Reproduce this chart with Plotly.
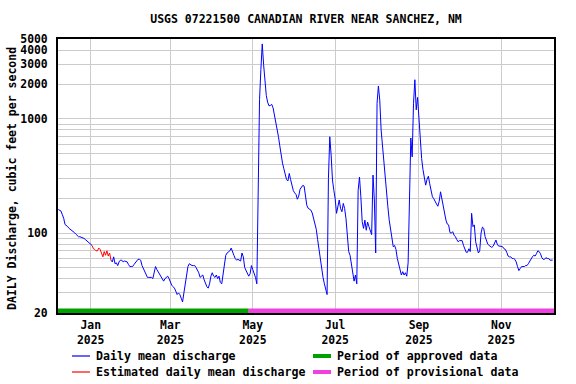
import plotly.graph_objects as go
import pandas as pd

# ---------------- data ----------------
title_text = "USGS 07221500 CANADIAN RIVER NEAR SANCHEZ, NM"
y_title = "DAILY Discharge, cubic feet per second"
start_date = "2024-12-08"

# daily mean discharge, cfs, one value per day from start_date
discharge = [
    161, 158, 156, 145, 135, 119, 117, 114, 110, 108,
    106, 104, 101, 98, 96, 93, 93, 92, 92, 90,
    88, 86, 84, 82, 80, 78, 73, 72, 70, 70,
    74, 72, 66, 62, 69, 64, 70, 63, 67, 58,
    56, 62, 54, 55, 52, 56, 58, 58, 56, 57,
    56, 56, 53, 51, 51, 51, 53, 55, 56, 59,
    59, 58, 52, 49, 46, 44, 41, 41, 41, 41,
    40, 46, 51, 48, 46, 44, 42, 40, 38, 40,
    41, 42, 40, 37, 35, 34, 33, 31, 29, 30,
    29, 27, 25, 30, 36, 45, 51, 54, 53, 52,
    52, 52, 50, 48, 45, 41, 42, 43, 39, 36,
    34, 33, 36, 42, 45, 42, 41, 43, 40, 42,
    37, 36, 45, 55, 64, 67, 69, 70, 74, 70,
    64, 60, 58, 59, 58, 57, 67, 62, 50, 47,
    45, 42, 44, 52, 48, 45, 41, 36, 243, 1470,
    2700, 4530, 3000, 2000, 1600, 1400, 1300, 1310, 1340, 1250,
    1100, 920, 820, 700, 580, 480, 410, 366, 320, 294,
    286, 333, 294, 257, 236, 225, 218, 198, 211, 242,
    250, 262, 258, 198, 175, 165, 161, 159, 150, 132,
    115, 108, 88, 72, 61, 48, 41, 36, 31, 29,
    300, 697, 482, 292, 237, 200, 149, 177, 195, 164,
    154, 182, 164, 134, 100, 69, 64, 54, 42, 38,
    43, 36, 237, 310, 208, 126, 110, 130, 106, 125,
    114, 103, 97, 322, 195, 67, 1370, 1940, 1460, 800,
    570, 410, 290, 220, 170, 130, 105, 93, 76, 78,
    72, 60, 53, 48, 43, 46, 43, 45, 42, 55,
    250, 680, 465, 1370, 2200, 1200, 1540, 975, 650, 450,
    360, 300, 263, 295, 315, 270, 230, 208, 200, 186,
    180, 172, 190, 230, 204, 177, 150, 130, 120, 118,
    101, 100, 103, 96, 93, 88, 84, 86, 86, 86,
    78, 71, 68, 68, 73, 69, 149, 114, 118, 84,
    76, 67, 70, 100, 113, 110, 93, 84, 80, 78,
    77, 75, 77, 82, 87, 80, 77, 77, 77, 76,
    73, 72, 68, 63, 62, 62, 60, 60, 59, 56,
    51, 47, 49, 51, 51, 51, 52, 52, 54, 57,
    60, 62, 64, 63, 66, 70, 69, 66, 61, 59,
    59, 61, 60, 60, 58, 58, 58,
]

estimated_first = "2025-01-03"
estimated_last = "2025-01-15"
approved_end = "2025-04-28"
x_range = ["2024-12-07 19:00", "2025-12-10 00:00"]

y_grid_values = [20, 30, 40, 50, 60, 70, 80, 90,
                 100, 200, 300, 400, 500, 600, 700, 800, 900,
                 1000, 2000, 3000, 4000, 5000]
y_labelled = [20, 100, 1000, 2000, 3000, 4000, 5000]

legend_labels = ["Daily mean discharge", "Estimated daily mean discharge",
                 "Period of approved data", "Period of provisional data"]

BLUE = "#0000ff"
RED = "#ff0000"
GREEN = "#00a000"
MAGENTA = "#f040e0"
FONT = "DejaVu Sans Mono"

PLOT_L, PLOT_R, PLOT_T, PLOT_B = 58, 554, 39, 313  # page pixels

# ---------------- build ----------------
dates = pd.date_range(start_date, periods=len(discharge), freq="D")
s = pd.Series(discharge, index=dates, dtype=float)
est_mask = (dates >= pd.Timestamp(estimated_first)) & (dates <= pd.Timestamp(estimated_last))
red_mask = (dates >= pd.Timestamp(estimated_first) - pd.Timedelta(days=1)) & \
           (dates <= pd.Timestamp(estimated_last) + pd.Timedelta(days=1))
blue_vals = [None if m else v for v, m in zip(s.values, est_mask)]

fig = go.Figure()
fig.add_trace(go.Scatter(x=dates, y=blue_vals, mode="lines",
                         line=dict(color=BLUE, width=1), connectgaps=False,
                         name=legend_labels[0], showlegend=False))
fig.add_trace(go.Scatter(x=dates[red_mask], y=s.values[red_mask], mode="lines",
                         line=dict(color=RED, width=1),
                         name=legend_labels[1], showlegend=False))

# approval period bars along the bottom of the plot
fig.add_shape(type="rect", xref="x", yref="paper", x0=x_range[0], x1=approved_end,
              y0=0, y1=0.016, fillcolor=GREEN, line=dict(width=0), layer="above")
fig.add_shape(type="rect", xref="x", yref="paper", x0=approved_end, x1=x_range[1],
              y0=0, y1=0.016, fillcolor=MAGENTA, line=dict(width=0), layer="above")

W = float(PLOT_R - PLOT_L)
H = float(PLOT_B - PLOT_T)
def px_x(p):
    return (p - PLOT_L) / W
def px_y(p):
    return (PLOT_B - p) / H

legend_items = [
    (legend_labels[0], BLUE, 1.2, 72, 356),
    (legend_labels[1], RED, 1.2, 72, 372),
    (legend_labels[2], GREEN, 4, 313, 356),
    (legend_labels[3], MAGENTA, 4, 313, 372),
]
for label, color, lw, lx, ly in legend_items:
    fig.add_shape(type="line", xref="paper", yref="paper",
                  x0=px_x(lx), x1=px_x(lx + 18), y0=px_y(ly), y1=px_y(ly),
                  line=dict(color=color, width=lw))
    fig.add_annotation(xref="paper", yref="paper", x=px_x(lx + 22), y=px_y(ly),
                       text=label, showarrow=False, xanchor="left", yanchor="middle",
                       font=dict(family=FONT, size=11.6, color="black", weight="bold"))

fig.add_annotation(xref="paper", yref="paper", x=px_x(12), y=px_y(179),
                   text=y_title, textangle=-90, showarrow=False,
                   xanchor="center", yanchor="middle",
                   font=dict(family=FONT, size=11.5, color="black", weight="bold"))

fig.update_layout(
    width=576, height=384,
    margin=dict(l=PLOT_L, r=576 - PLOT_R, t=PLOT_T, b=384 - PLOT_B),
    paper_bgcolor="white", plot_bgcolor="white",
    showlegend=False,
    title=dict(text=title_text, x=((PLOT_L + PLOT_R) / 2) / 576, xanchor="center",
               y=1 - 19 / 384, yanchor="middle", yref="container",
               font=dict(family=FONT, size=11.5, color="black", weight="bold")),
    xaxis=dict(type="date", range=x_range, dtick="M2", tick0="2025-01-01",
               tickformat="%b<br>%Y", showgrid=True, gridcolor="#cccccc", gridwidth=1,
               showline=True, linecolor="black", linewidth=2, mirror=True,
               ticks="", ticklabelstandoff=0, zeroline=False,
               tickfont=dict(family=FONT, size=11.4, color="black", weight="bold")),
    yaxis=dict(type="log", range=[1.30103, 3.69897],
               tickvals=y_grid_values,
               ticktext=[str(v) if v in y_labelled else "" for v in y_grid_values],
               showgrid=True, gridcolor="#cccccc", gridwidth=1,
               showline=True, linecolor="black", linewidth=2, mirror=True,
               ticks="", ticklabelstandoff=6, zeroline=False,
               tickfont=dict(family=FONT, size=11.4, color="black", weight="bold")),
)

# remove the browser's default 8px body margin so the figure fills the window
fig.write_html("out.html", config={"displayModeBar": False},
               post_script="document.body.style.margin='0px';")
